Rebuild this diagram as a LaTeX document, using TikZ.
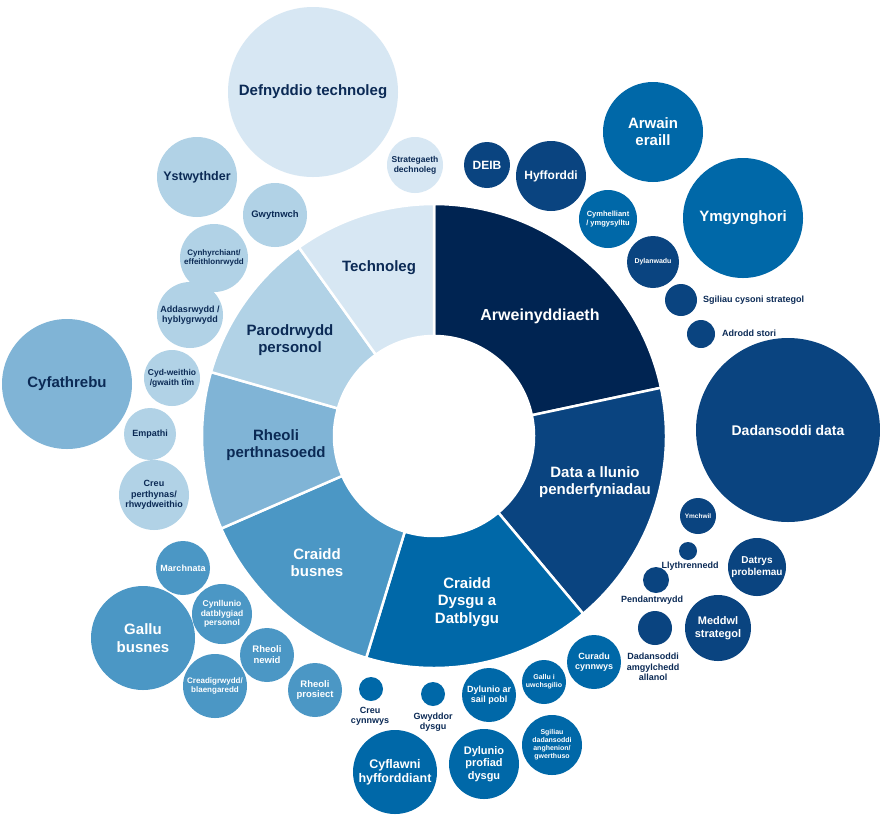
\documentclass[tikz,border=0pt]{standalone}
\usepackage{fontspec}
\setmainfont{Liberation Sans}
\usetikzlibrary{calc}
\definecolor{cA}{HTML}{002452}
\definecolor{cD}{HTML}{0A4480}
\definecolor{cL}{HTML}{0068A8}
\definecolor{cB}{HTML}{4B97C5}
\definecolor{cR}{HTML}{80B4D6}
\definecolor{cP}{HTML}{B1D2E6}
\definecolor{cT}{HTML}{D7E7F3}
\definecolor{tx}{HTML}{0B2A55}
\newcommand{\fs}[1]{\fontsize{#1}{1.15\dimexpr#1pt\relax}\selectfont\bfseries}
\newcommand{\seg}[3]{\fill[#3,draw=white,line width=2.5pt] ($(c)+(#1:232)$) arc[start angle=#1,end angle=#2,radius=232] -- ($(c)+(#2:100)$) arc[start angle=#2,end angle=#1,radius=100] -- cycle;}
\begin{document}
\begin{tikzpicture}[x=1pt,y=-1pt,
  bub/.style={circle,inner sep=0pt,align=center},
  lt/.style={text=tx},
  dk/.style={text=white},
  lab/.style={align=center,text=tx,inner sep=0pt}]
\useasboundingbox[fill=white] (0,0) rectangle (880,820);
\coordinate (c) at (434,436);
\seg{-90}{-12}{cA}
\seg{-12}{50}{cD}
\seg{50}{107}{cL}
\seg{107}{156.5}{cB}
\seg{156.5}{196}{cR}
\seg{196}{234.4}{cP}
\seg{234.4}{270}{cT}
\node[lab,text=white,font=\fs{16}] (sA) at (540,316) {Arweinyddiaeth};
\node[lab,text=white,font=\fs{15}] (sD) at (595,482) {Data a llunio\\penderfyniadau};
\node[lab,text=white,font=\fs{15}] (sL) at (467,602) {Craidd\\Dysgu a\\Datblygu};
\node[lab,text=white,font=\fs{15}] (sB) at (317,563) {Craidd\\busnes};
\node[lab,font=\fs{15}] (sR) at (276,445) {Rheoli\\perthnasoedd};
\node[lab,font=\fs{15}] (sP) at (290,340) {Parodrwydd\\personol};
\node[lab,font=\fs{15}] (sT) at (379,268) {Technoleg};
% Technoleg
\node[bub,fill=cT,lt,minimum size=170,font=\fs{15}] (t1) at (313,92) {Defnyddio technoleg};
\node[bub,fill=cT,lt,minimum size=56,font=\fs{8.5}] (t2) at (415,165) {Strategaeth\\dechnoleg};
% Parodrwydd / Rheoli
\node[bub,fill=cP,lt,minimum size=80,font=\fs{12.5}] (p1) at (197,177) {Ystwythder};
\node[bub,fill=cP,lt,minimum size=64,font=\fs{9.5}] (p2) at (275,215) {Gwytnwch};
\node[bub,fill=cP,lt,minimum size=68,font=\fs{8}] (p3) at (214,258) {Cynhyrchiant/\\effeithlonrwydd};
\node[bub,fill=cP,lt,minimum size=66,font=\fs{9}] (p4) at (190,315) {Addasrwydd /\\hyblygrwydd};
\node[bub,fill=cP,lt,minimum size=56,font=\fs{8.5}] (p5) at (172,378) {Cyd-weithio\\/gwaith tîm};
\node[bub,fill=cR,lt,minimum size=130,font=\fs{15}] (r1) at (67,384) {Cyfathrebu};
\node[bub,fill=cP,lt,minimum size=52,font=\fs{9}] (p6) at (150,434) {Empathi};
\node[bub,fill=cP,lt,minimum size=70,font=\fs{9}] (p7) at (154,495) {Creu\\perthynas/\\rhwydweithio};
% Busnes
\node[bub,fill=cB,dk,minimum size=54,font=\fs{9}] (b1) at (183,568) {Marchnata};
\node[bub,fill=cB,dk,minimum size=104,font=\fs{15}] (b2) at (143,638) {Gallu\\busnes};
\node[bub,fill=cB,dk,minimum size=60,font=\fs{8.5}] (b3) at (222,614) {Cynllunio\\datblygiad\\personol};
\node[bub,fill=cB,dk,minimum size=54,font=\fs{9.5}] (b4) at (267,655) {Rheoli\\newid};
\node[bub,fill=cB,dk,minimum size=64,font=\fs{8}] (b5) at (215,686) {Creadigrwydd/\\blaengaredd};
\node[bub,fill=cB,dk,minimum size=54,font=\fs{9.5}] (b6) at (315,690) {Rheoli\\prosiect};
% Dysgu
\node[bub,fill=cL,minimum size=24] (l1) at (371,689) {};
\node[lab,font=\fs{9}] (l1t) at (370,716) {Creu\\cynnwys};
\node[bub,fill=cL,minimum size=24] (l2) at (433,694) {};
\node[lab,font=\fs{9}] (l2t) at (433,722) {Gwyddor\\dysgu};
\node[bub,fill=cL,dk,minimum size=84,font=\fs{12.5}] (l3) at (395,772) {Cyflawni\\hyfforddiant};
\node[bub,fill=cL,dk,minimum size=54,font=\fs{9}] (l4) at (489,695) {Dylunio ar\\sail pobl};
\node[bub,fill=cL,dk,minimum size=44,font=\fs{7}] (l5) at (544,682) {Gallu i\\uwchsgilio};
\node[bub,fill=cL,dk,minimum size=54,font=\fs{9}] (l6) at (594,662) {Curadu\\cynnwys};
\node[bub,fill=cL,dk,minimum size=70,font=\fs{11}] (l7) at (484,764) {Dylunio\\profiad\\dysgu};
\node[bub,fill=cL,dk,minimum size=60,font=\fs{7}] (l8) at (552,745) {Sgiliau\\dadansoddi\\anghenion/\\gwerthuso};
% Data
\node[bub,fill=cD,dk,minimum size=184,font=\fs{14}] (d1) at (788,430) {Dadansoddi data};
\node[bub,fill=cD,dk,minimum size=36,font=\fs{6.5}] (d2) at (698,516) {Ymchwil};
\node[bub,fill=cD,minimum size=18] (d3) at (688,551) {};
\node[lab,font=\fs{9}] (d3t) at (690,566) {Llythrennedd};
\node[bub,fill=cD,dk,minimum size=58,font=\fs{10}] (d4) at (757,567) {Datrys\\problemau};
\node[bub,fill=cD,minimum size=26] (d5) at (656,580) {};
\node[lab,font=\fs{9}] (d5t) at (652,600) {Pendantrwydd};
\node[bub,fill=cD,dk,minimum size=66,font=\fs{11}] (d6) at (718,628) {Meddwl\\strategol};
\node[bub,fill=cD,minimum size=34] (d7) at (655,628) {};
\node[lab,font=\fs{9}] (d7t) at (653,667) {Dadansoddi\\amgylchedd\\allanol};
% Arweinyddiaeth
\node[bub,fill=cD,dk,minimum size=46,font=\fs{12}] (a1) at (487,165) {DEIB};
\node[bub,fill=cD,dk,minimum size=70,font=\fs{12}] (a2) at (551,176) {Hyfforddi};
\node[bub,fill=cL,dk,minimum size=100,font=\fs{15}] (a3) at (653,132) {Arwain\\eraill};
\node[bub,fill=cL,dk,minimum size=58,font=\fs{7.5}] (a4) at (608,219) {Cymhelliant\\/ ymgysylltu};
\node[bub,fill=cL,dk,minimum size=120,font=\fs{15}] (a5) at (743,218) {Ymgynghori};
\node[bub,fill=cD,dk,minimum size=52,font=\fs{7}] (a6) at (653,262) {Dylanwadu};
\node[bub,fill=cD,minimum size=32] (a7) at (681,300) {};
\node[lab,font=\fs{9},anchor=west] (a7t) at (703,300) {Sgiliau cysoni strategol};
\node[bub,fill=cD,minimum size=28] (a8) at (701,334) {};
\node[lab,font=\fs{9},anchor=west] (a8t) at (722,333) {Adrodd stori};
\end{tikzpicture}
\end{document}
